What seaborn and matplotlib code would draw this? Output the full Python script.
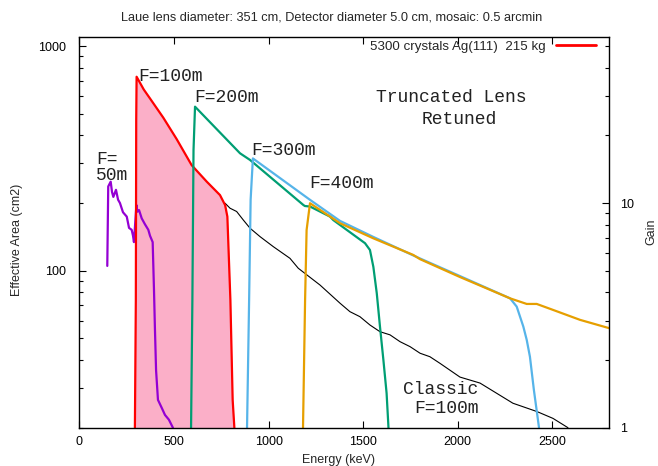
import matplotlib
matplotlib.use("Agg")
import matplotlib.pyplot as plt
from matplotlib.lines import Line2D
from matplotlib.ticker import FixedLocator, NullFormatter, LogLocator
import seaborn as sns

# ---------------- data ----------------
f50_energy = [147, 152, 165, 172, 179, 193, 204, 214, 230, 250, 262, 276, 283, 288,
              301, 306, 315, 329, 346, 364, 373, 387, 394, 399, 405, 415, 436, 452, 473, 494]
f50_area = [105, 237, 249, 224, 213, 229, 207, 200, 182, 174, 155, 152, 143, 134,
            196, 183, 186, 171, 161, 152, 143, 134, 82, 55, 36, 26.6, 24.4, 22.8, 21.7, 20]

f100_energy = [293, 298, 300, 302, 340, 373, 443, 514, 593, 673, 743, 770, 782, 798, 810, 819]
f100_area = [20, 74, 469, 730, 640, 584, 480, 385, 295, 249, 217, 196, 174, 74, 26.6, 20]

classic_energy = [770, 796, 831, 866, 902, 955, 1025, 1113, 1157, 1272, 1378, 1430, 1483,
                  1536, 1589, 1642, 1695, 1748, 1801, 1853, 1906, 2012, 2118, 2292, 2419,
                  2504, 2583]
classic_area = [199.6, 189.7, 183.4, 168.2, 154.5, 141.7, 127.9, 113.5, 102.5, 86.3, 71.6,
                65.7, 62.4, 57.3, 53.5, 51.8, 48.3, 45.9, 42.9, 41.4, 38.7, 33.6, 31.6,
                25.7, 23.6, 22.0, 20]

f200_energy = [590, 597, 603, 611, 849, 902, 1184, 1192, 1219, 1325, 1342, 1510, 1536,
               1554, 1572, 1589, 1607, 1624, 1634]
f200_area = [20, 74, 344, 537, 333, 311, 196, 194, 193, 174, 168, 132.5, 123.6,
             104, 79.4, 56.4, 40.1, 28.5, 20]

f300_energy = [886, 897, 905, 917, 1219, 1378, 1554, 1765, 1801, 2012, 2277, 2312, 2347,
               2365, 2382, 2403, 2430]
f300_area = [20, 74, 207, 316, 206.7, 166.5, 141.3, 116.9, 113.3, 94.6, 75.3, 69.2, 56.4,
             49.2, 41.4, 29.4, 20]

f400_energy = [1182, 1193, 1201, 1219, 1378, 1554, 1765, 1801, 2012, 2277, 2365, 2418,
               2506, 2647, 2800]
f400_area = [20, 74, 151.7, 199.6, 162.6, 139.3, 117.5, 112.5, 93.7, 75.3, 71.1, 71.1,
             66.8, 60.4, 55.5]

x_ticks = [0, 500, 1000, 1500, 2000, 2500]
y_ticks = [100, 1000]
gain_ticks = [1, 10]
legend_label = "5300 crystals Ag(111)  215 kg"
subtitle = "Laue lens diameter: 351 cm, Detector diameter 5.0 cm, mosaic: 0.5 arcmin"

# ---------------- style ----------------
sns.set_theme(style="ticks")
plt.rcParams['font.family'] = ['Liberation Sans', 'DejaVu Sans']
plt.rcParams['axes.linewidth'] = 1.0
plt.rcParams['axes.edgecolor'] = 'black'

fig = plt.figure(figsize=(6.58, 4.66), dpi=100)
ax = fig.add_axes([0.1208, 0.0822, 0.8047, 0.839])
ax.set_yscale('log')

ax.fill_between(f100_energy, f100_area, 20, color="#FBAFC8", lw=0, zorder=1)

def draw(x, y, color, lw):
    sns.lineplot(x=x, y=y, ax=ax, estimator=None, sort=False, color=color,
                 linewidth=lw, legend=False)

draw(classic_energy, classic_area, "black", 0.8)
draw(f50_energy, f50_area, "#9400D3", 1.6)
draw(f100_energy, f100_area, "#FF0000", 1.6)
draw(f200_energy, f200_area, "#009E73", 1.6)
draw(f300_energy, f300_area, "#56B4E9", 1.6)
draw(f400_energy, f400_area, "#E69F00", 1.6)

ax.set_xlim(0, 2800)
ax.set_ylim(20, 1100)
ax.xaxis.set_major_locator(FixedLocator(x_ticks))
ax.set_xticklabels([str(v) for v in x_ticks])
ax.yaxis.set_major_locator(FixedLocator(y_ticks))
ax.set_yticklabels([str(v) for v in y_ticks])
ax.yaxis.set_minor_locator(LogLocator(base=10, subs=range(2, 10)))
ax.yaxis.set_minor_formatter(NullFormatter())
ax.tick_params(axis='both', which='both', direction='in', top=True, right=True,
               color='black', labelsize=9, labelcolor='black', width=0.8)
ax.tick_params(axis='both', which='major', length=5)
ax.tick_params(axis='both', which='minor', length=3)
ax.tick_params(axis='x', pad=6)
ax.tick_params(axis='y', pad=10)

ax.set_xlabel("Energy (keV)", fontsize=9)
ax.xaxis.set_label_coords(0.49, -0.068)
ax.set_ylabel("Effective Area (cm2)", fontsize=9)
ax.yaxis.set_label_coords(-0.106, 0.48)

ax2 = ax.twinx()
ax2.set_yscale('log')
ax2.set_ylim(1, 55)
ax2.yaxis.set_major_locator(FixedLocator(gain_ticks))
ax2.set_yticklabels([str(v) for v in gain_ticks])
ax2.yaxis.set_minor_locator(LogLocator(base=10, subs=range(2, 10)))
ax2.yaxis.set_minor_formatter(NullFormatter())
ax2.tick_params(axis='y', which='both', direction='in', color='black', labelsize=9,
                labelcolor='black', width=0.8, pad=8)
ax2.tick_params(axis='y', which='major', length=5)
ax2.tick_params(axis='y', which='minor', length=3)
ax2.set_ylabel("Gain", fontsize=9, rotation=90)
ax2.yaxis.set_label_coords(1.068, 0.5)
for s in ax2.spines.values():
    s.set_visible(False)

handle = Line2D([], [], color="#FF0000", lw=2)
ax.legend([handle], [legend_label], loc='upper right', bbox_to_anchor=(0.9755, 0.990),
          borderaxespad=0, borderpad=0, frameon=False, markerfirst=False,
          handlelength=3, handletextpad=0.8, fontsize=9.6)

mono = dict(family=['Liberation Mono', 'DejaVu Sans Mono'], fontsize=13, color='#222222')
ax.text(482, 735, "F=100m", ha='center', va='center', **mono)
ax.text(780, 587, "F=200m", ha='center', va='center', **mono)
ax.text(1080, 341, "F=300m", ha='center', va='center', **mono)
ax.text(1383, 245, "F=400m", ha='center', va='center', **mono)
ax.text(87, 311, "F=", ha='left', va='center', **mono)
ax.text(87, 264, "50m", ha='left', va='center', **mono)
ax.text(1966, 590, "Truncated Lens", ha='center', va='center', **mono)
ax.text(2006, 469, "Retuned", ha='center', va='center', **mono)
ax.text(1909, 29.6, "Classic", ha='center', va='center', **mono)
ax.text(1942, 24.3, "F=100m", ha='center', va='center', **mono)

fig.text(332 / 658, 1 - 18 / 466, subtitle, ha='center', va='center', fontsize=9.2)

fig.savefig("out.png", dpi=100)
